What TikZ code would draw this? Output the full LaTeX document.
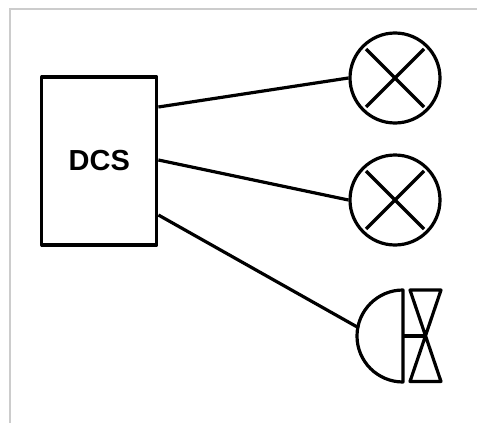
\documentclass[tikz,border=0pt]{standalone}
\usepackage{fontspec}
\setmainfont{Liberation Sans}
\tikzset{
  ink/.style={line width=3.2pt,draw=black,line join=round},
  dcsbox/.style={ink,rectangle,minimum width=115pt,minimum height=168pt,inner sep=0pt,font=\bfseries\fontsize{29}{29}\selectfont},
  lamp/.style={ink,circle,minimum size=90pt,inner sep=0pt},
  wire/.style={ink}
}
\begin{document}
\begin{tikzpicture}[x=1pt,y=-1pt]
\useasboundingbox (0,0) rectangle (477,423);
\draw[line width=2pt,draw=black!20] (9.5,423) -- (9.5,8.5) -- (477,8.5);
\node[dcsbox] (dcs) at (99.3,161) {DCS};
\node[lamp] (lamp1) at (395,78) {};
\node[lamp] (lamp2) at (395,200) {};
\foreach \n in {lamp1,lamp2}{
  \draw[ink] ([shift={(-29,-29)}]\n.center) -- ([shift={(29,29)}]\n.center);
  \draw[ink] ([shift={(-29,29)}]\n.center) -- ([shift={(29,-29)}]\n.center);
}
% actuator and valve
\coordinate (hub) at (403,336);
\coordinate (act) at (359,328);
\coordinate (cross) at (425.5,336);
\draw[ink] (403,290) arc[start angle=-90,end angle=-270,radius=46] -- cycle;
\draw[ink] (hub) -- (cross);
\draw[ink] (410,290) -- (441,290) -- (410,381.5) -- (441,381.5) -- cycle;
% connectors
\coordinate (out1) at ([yshift=54pt]dcs.east);
\coordinate (out2) at ([yshift=1pt]dcs.east);
\coordinate (out3) at ([yshift=-54pt]dcs.east);
\draw[wire] (out1) -- (lamp1.west);
\draw[wire] (out2) -- (lamp2.west);
\draw[wire] (out3) -- (act);
\end{tikzpicture}
\end{document}
